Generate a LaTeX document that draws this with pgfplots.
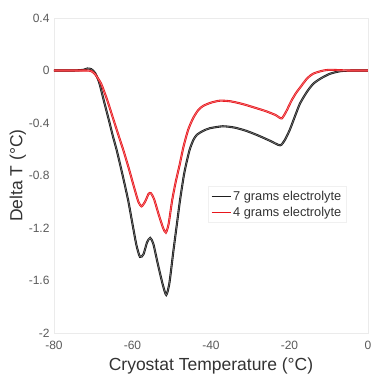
\documentclass[border=0pt]{standalone}
\usepackage{pgfplots}
\pgfplotsset{compat=1.18}
\usepackage{fontspec}
\setmainfont{Liberation Sans}
\definecolor{myred}{HTML}{E8161C}
\definecolor{myblack}{HTML}{1E1E1E}
\definecolor{tickgray}{HTML}{5A5A5A}
\begin{document}
\begin{tikzpicture}[x=1pt,y=1pt]
\begin{axis}[
  at={(0,0)}, anchor=south west,
  width=314pt, height=315pt, scale only axis,
  xmin=-80, xmax=0, ymin=-2, ymax=0.4,
  xtick={-80,-60,-40,-20,0},
  ytick={-2,-1.6,-1.2,-0.8,-0.4,0,0.4},
  yticklabels={-2,-1.6,-1.2,-0.8,-0.4,0,0.4},
  xticklabels={-80,-60,-40,-20,0},
  major tick length=0pt,
  axis line style={draw=black!8},
  tick label style={font=\fontsize{12}{13}\selectfont, text=tickgray},
  xticklabel style={yshift=-5pt},
  yticklabel style={xshift=-1pt},
  xlabel={Cryostat Temperature (°C)},
  ylabel={Delta T (°C)},
  label style={font=\fontsize{17.5}{19}\selectfont, text=black!80},
  xlabel style={yshift=-1pt},
  ylabel style={yshift=-4pt},
  legend style={at={(rel axis cs:0.49,0.35)}, anchor=south west,
    draw=black!6, font=\fontsize{12.8}{15}\selectfont, text=black!80,
    inner xsep=3pt, inner ysep=3pt, row sep=1pt},
  legend cell align=left,
  legend image code/.code={\draw[#1] (0pt,0pt) -- (19pt,0pt);},
]
\addlegendimage{myblack, line width=1.1pt}
\addlegendentry{7 grams electrolyte}
\addlegendimage{myred, line width=1.1pt}
\addlegendentry{4 grams electrolyte}
\addplot[forget plot, myblack, line width=0.85pt, double=black!45, double distance=0.4pt, smooth, tension=0.4] coordinates {
(-80,0) (-75,0) (-72.5,0.005) (-71.5,0.015) (-70.5,0.01) (-69.5,-0.02)
(-68.5,-0.09) (-67.3,-0.23) (-66,-0.38) (-65,-0.5) (-64,-0.61) (-62.5,-0.8)
(-61.1,-0.99) (-60,-1.17) (-59,-1.33) (-58.1,-1.42) (-57.2,-1.40) (-56.3,-1.31)
(-55.5,-1.275) (-54.7,-1.32) (-53.5,-1.48) (-52.3,-1.63) (-51.4,-1.71)
(-50.6,-1.62) (-49.6,-1.38) (-48.6,-1.15) (-47.9,-0.99) (-46.8,-0.78)
(-45.5,-0.61) (-44.5,-0.53) (-43.6,-0.49) (-42,-0.46) (-40.3,-0.44)
(-37,-0.425) (-34,-0.435) (-31,-0.46) (-28,-0.495) (-25,-0.535) (-22.4,-0.57)
(-21.2,-0.53) (-19.9,-0.45) (-18.5,-0.34) (-17.3,-0.25) (-15.5,-0.16)
(-13.9,-0.10) (-12,-0.06) (-9.7,-0.025) (-7,-0.005) (-4,0) (0,0)
};
\addplot[forget plot, myred, line width=0.85pt, double=myred!45, double distance=0.4pt, smooth, tension=0.4] coordinates {
(-80,0) (-72,0) (-70.5,-0.005) (-69.5,-0.03) (-68,-0.1) (-66.5,-0.22)
(-65,-0.36) (-63.5,-0.5) (-62.3,-0.61) (-61,-0.74) (-59.5,-0.9) (-58.5,-1.0)
(-57.7,-1.035) (-56.8,-1.0) (-55.9,-0.94) (-55.3,-0.935) (-54.5,-0.98)
(-53.3,-1.1) (-52.2,-1.2) (-51.5,-1.235) (-50.8,-1.17) (-49.9,-0.99)
(-49,-0.85) (-48,-0.72) (-47,-0.58) (-45.8,-0.45) (-44.5,-0.36) (-43.2,-0.30)
(-42,-0.27) (-40,-0.245) (-37.7,-0.23) (-35,-0.235) (-32,-0.255) (-29.2,-0.28)
(-26,-0.31) (-23.5,-0.34) (-22,-0.365) (-20.8,-0.31) (-19.5,-0.23)
(-18.3,-0.17) (-17.3,-0.13) (-15.5,-0.06) (-14,-0.025) (-12,-0.005)
(-10,0.005) (-5,0) (0,0)
};
\end{axis}
\path[use as bounding box] (-54pt,-49pt) rectangle (328pt,333pt);
\end{tikzpicture}
\end{document}
